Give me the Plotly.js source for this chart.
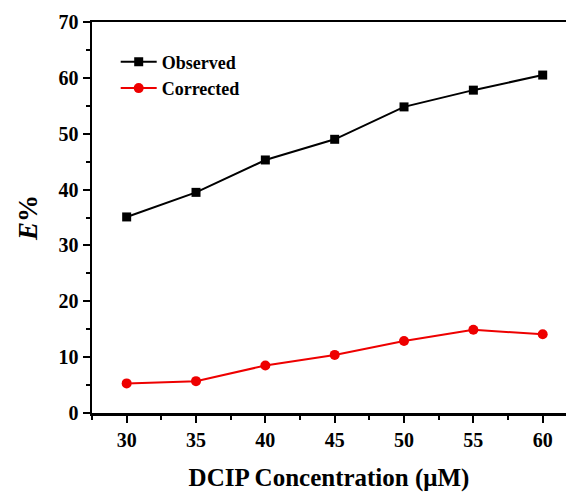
<!DOCTYPE html>
<html>
<head>
<meta charset="utf-8">
<script src="https://cdn.plot.ly/plotly-3.0.1.min.js"></script>
<style>
  html, body { margin: 0; padding: 0; width: 566px; height: 492px; overflow: hidden; background: #fff; }
  #chart { position: absolute; left: 0; top: 0; width: 566px; height: 492px; overflow: hidden; }
</style>
</head>
<body>
<div id="chart"></div>
<script>
// DCIP concentration (µM)
const concentration = [30, 35, 40, 45, 50, 55, 60];
// Extraction efficiency E% — measured values
const observed = [35.1, 39.5, 45.3, 49.0, 54.8, 57.8, 60.5];
// Extraction efficiency E% — corrected values
const corrected = [5.3, 5.7, 8.5, 10.4, 12.9, 14.9, 14.1];

const serif = 'Liberation Serif, Times New Roman, serif';

const traces = [
  {
    x: concentration, y: observed, name: 'Observed',
    type: 'scatter', mode: 'lines+markers',
    line: { color: '#000000', width: 2 },
    marker: { symbol: 'square', size: 9, color: '#000000' }
  },
  {
    x: concentration, y: corrected, name: 'Corrected',
    type: 'scatter', mode: 'lines+markers',
    line: { color: '#ee0000', width: 2 },
    marker: { symbol: 'circle', size: 10, color: '#ee0000' }
  }
];

const layout = {
  width: 566, height: 492,
  margin: { l: 92, r: 0, t: 22, b: 79 },
  paper_bgcolor: '#ffffff', plot_bgcolor: '#ffffff',
  font: { family: serif, color: '#000000' },
  showlegend: true,
  legend: {
    x: 0.05, y: 0.945, xanchor: 'left', yanchor: 'top',
    bgcolor: 'rgba(0,0,0,0)',
    itemwidth: 36,
    font: { family: serif, size: 18, color: '#000000', weight: 'bold' },
    tracegroupgap: 0
  },
  xaxis: {
    range: [27.5, 61.68],
    tickmode: 'array', tickvals: concentration,
    ticks: 'outside', ticklen: 7, tickwidth: 2, tickcolor: '#000',
    minor: { dtick: 2.5, tick0: 27.5, ticks: 'outside', ticklen: 4, tickwidth: 2, tickcolor: '#000' },
    showline: true, linewidth: 2.5, linecolor: '#000', mirror: true,
    showgrid: false, zeroline: false, automargin: false,
    tickfont: { family: serif, size: 20, weight: 'bold' },
    title: { text: 'DCIP Concentration (μM)', font: { family: serif, size: 25, weight: 'bold' }, standoff: 20 }
  },
  yaxis: {
    range: [0, 70],
    tickmode: 'linear', tick0: 0, dtick: 10,
    ticks: 'outside', ticklen: 7, tickwidth: 2, tickcolor: '#000',
    minor: { dtick: 5, ticks: 'outside', ticklen: 4, tickwidth: 2, tickcolor: '#000' },
    showline: true, linewidth: 2.5, linecolor: '#000', mirror: false,
    showgrid: false, zeroline: false,
    tickfont: { family: serif, size: 20, weight: 'bold' },
    title: { text: '<i>E</i>%', font: { family: serif, size: 27, weight: 'bold' }, standoff: 13 }
  }
};

Plotly.newPlot('chart', traces, layout, { displayModeBar: false, staticPlot: true });
</script>
</body>
</html>
